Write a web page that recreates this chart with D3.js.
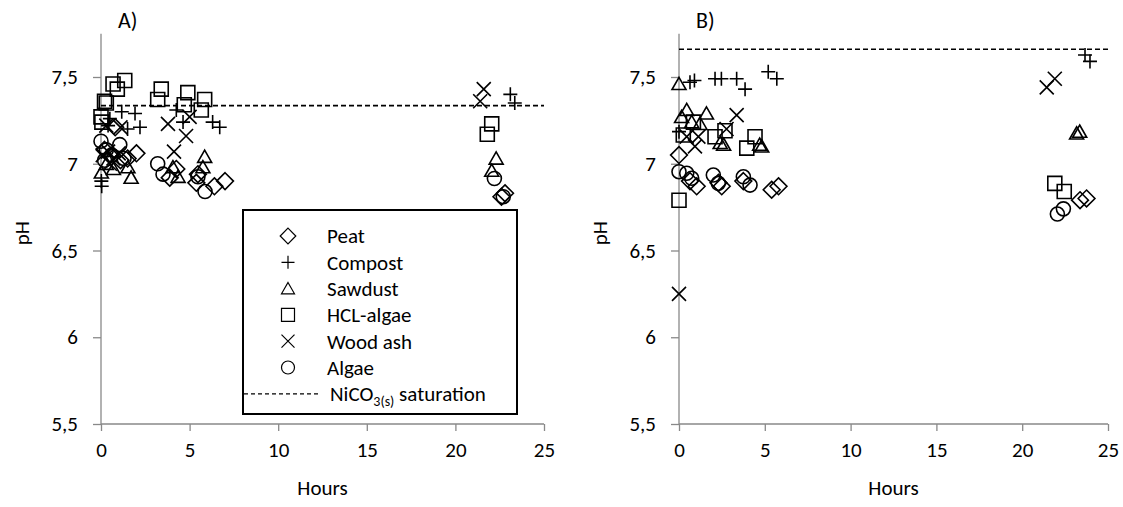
<!DOCTYPE html>
<html><head><meta charset="utf-8">
<script src="https://cdn.jsdelivr.net/npm/d3@7"></script>
<style>
html,body{margin:0;padding:0;background:#fff;}
svg{display:block;font-family:Carlito,Calibri,Lato,sans-serif;}
</style></head>
<body><svg id="c" width="1123" height="507"></svg>
<script>
// ---------- data ----------
const xTicks = [0,5,10,15,20,25];
const yTicks = [5.5,6,6.5,7,7.5];
const yTickLabels = ["5,5","6","6,5","7","7,5"];
const seriesNames = ["Peat","Compost","Sawdust","HCL-algae","Wood ash","Algae"];
const saturationLabel = "NiCO";
const saturationA = 7.335;
const saturationB = 7.66;

// Panel A  [hours, pH]
const peatA = [[0.2,7.08],[0.6,7.04],[0.8,7.21],[1.1,7.02],[1.5,7.03],[2.0,7.06],[3.88,6.92],[4.25,6.97],[5.38,6.89],[5.47,6.94],[6.4,6.87],[7.0,6.90],[22.6,6.81],[22.8,6.83]];
const compostA = [[0.02,6.90],[0.04,6.87],[0.4,7.22],[0.5,7.26],[1.17,7.30],[1.5,7.20],[1.92,7.29],[2.2,7.21],[4.25,7.31],[4.63,7.24],[6.3,7.24],[6.7,7.21],[23.1,7.40],[23.35,7.35]];
const sawdustA = [[0.02,6.95],[0.3,7.00],[0.7,6.97],[1.52,6.98],[1.7,6.92],[4.06,6.98],[4.35,6.925],[5.75,6.98],[5.85,7.04],[22.05,6.96],[22.3,7.03]];
const hclA = [[0.0,7.27],[0.05,7.24],[0.2,7.36],[0.3,7.35],[0.68,7.46],[0.92,7.43],[1.34,7.48],[3.2,7.37],[3.4,7.43],[4.7,7.34],[4.9,7.41],[5.66,7.31],[5.85,7.37],[21.8,7.17],[22.05,7.23]];
const woodA = [[0.1,7.05],[0.3,7.22],[0.4,7.07],[0.5,7.00],[0.7,7.03],[1.0,7.06],[1.1,7.21],[3.78,7.23],[4.12,7.07],[4.8,7.16],[5.0,7.27],[21.4,7.36],[21.6,7.43]];
const algaeA = [[0.0,7.13],[0.2,7.02],[0.3,7.08],[0.6,7.05],[1.06,7.11],[1.3,7.03],[3.2,7.00],[3.5,6.94],[5.47,6.925],[5.87,6.84],[22.2,6.915],[22.7,6.81]];

// Panel B  [hours, pH]
const peatB = [[0.0,7.05],[0.64,6.90],[1.03,6.87],[2.3,6.89],[2.49,6.87],[3.75,6.90],[5.4,6.85],[5.8,6.87],[23.37,6.79],[23.75,6.80]];
const compostB = [[0.0,7.185],[0.64,7.47],[0.9,7.48],[2.1,7.49],[2.47,7.49],[3.36,7.49],[3.85,7.43],[5.2,7.53],[5.7,7.49],[23.66,7.627],[23.95,7.59]];
const sawdustB = [[0.0,7.46],[0.15,7.27],[0.45,7.31],[0.74,7.24],[1.22,7.23],[1.6,7.29],[2.4,7.12],[2.6,7.11],[4.7,7.11],[4.82,7.10],[23.17,7.175],[23.35,7.185]];
const hclB = [[0.0,6.79],[0.25,7.166],[0.84,7.24],[2.1,7.156],[2.68,7.19],[3.95,7.09],[4.43,7.156],[21.9,6.887],[22.45,6.84]];
const woodB = [[0.0,6.25],[0.45,7.156],[0.93,7.10],[1.13,7.156],[2.77,7.20],[3.36,7.28],[21.43,7.44],[21.9,7.49]];
const algaeB = [[0.0,6.954],[0.45,6.945],[0.74,6.916],[2.0,6.935],[2.29,6.887],[3.75,6.925],[4.14,6.877],[22.05,6.71],[22.4,6.74]];

// ---------- drawing ----------
const svg = d3.select("#c");
const AX = "#898989";
const font = 21;

function symbolPath(kind, s) {
  const h = s/2;
  switch(kind){
    case "Peat": { const d=h*1.2; return `M0,${-d}L${d},0L0,${d}L${-d},0Z`; }
    case "Compost": return `M${-h},0H${h}M0,${-h}V${h}`;
    case "Sawdust": return `M0,${-h*0.95}L${h},${h*0.8}L${-h},${h*0.8}Z`;
    case "HCL-algae": return `M${-h},${-h}H${h}V${h}H${-h}Z`;
    case "Wood ash": return `M${-h},${-h}L${h},${h}M${h},${-h}L${-h},${h}`;
    case "Algae": return d3.arc()({innerRadius:0,outerRadius:h,startAngle:0,endAngle:2*Math.PI});
  }
}

function panel(cfg){
  const x = d3.scaleLinear().domain([0,25]).range([cfg.x0, cfg.x1]);
  const y = d3.scaleLinear().domain([5.5,7.75]).range([424, 424-2.25*173.5]);
  const g = svg.append("g");

  const ya = g.append("g").attr("transform",`translate(${cfg.x0},0)`)
    .call(d3.axisLeft(y).tickValues(yTicks).tickSize(8).tickPadding(15)
      .tickFormat((d,i)=>yTickLabels[i]));
  const xa = g.append("g").attr("transform",`translate(0,${y(5.5)})`)
    .call(d3.axisBottom(x).tickValues(xTicks).tickSize(7).tickPadding(11));
  [ya,xa].forEach(a=>{
    a.select(".domain").attr("stroke",AX).attr("stroke-width",1.3);
    a.selectAll(".tick line").attr("stroke",AX).attr("stroke-width",1.3);
    a.selectAll("text").attr("fill","#000").style("font-size",font+"px").style("font-family","Carlito,Calibri,Lato,sans-serif");
  });
  ya.select(".domain").attr("d",`M0,${y(7.75)}V${y(5.5)}`);
  xa.select(".domain").attr("d",`M${x(0)},0H${x(25)}`);

  g.append("text").attr("x",(cfg.x0+cfg.x1)/2).attr("y",495).attr("text-anchor","middle")
    .style("font-size",font+"px").text("Hours");
  g.append("text").attr("transform",`translate(${cfg.x0-72},${y(6.6)}) rotate(-90)`)
    .attr("text-anchor","middle").style("font-size",font+"px").text("pH");
  g.append("text").attr("x",cfg.x0+17).attr("y",28).style("font-size","22px").text(cfg.title);

  g.append("line").attr("x1",x(0)).attr("x2",x(25)).attr("y1",y(cfg.sat)).attr("y2",y(cfg.sat))
    .attr("stroke","#000").attr("stroke-width",1.6).attr("stroke-dasharray","5,3");

  cfg.series.forEach((data,i)=>{
    const name = seriesNames[i];
    g.append("g").selectAll("path").data(data).join("path")
      .attr("transform",d=>`translate(${x(d[0])},${y(d[1])})`)
      .attr("d",symbolPath(name,14))
      .attr("fill","none").attr("stroke","#000").attr("stroke-width",1.6);
  });
}

panel({x0:101,x1:544,title:"A)",sat:saturationA,series:[peatA,compostA,sawdustA,hclA,woodA,algaeA]});
panel({x0:679,x1:1108,title:"B)",sat:saturationB,series:[peatB,compostB,sawdustB,hclB,woodB,algaeB]});

// legend (panel A)
const lg = svg.append("g");
lg.append("rect").attr("x",243).attr("y",210).attr("width",274).attr("height",204)
  .attr("fill","#fff").attr("stroke","#000").attr("stroke-width",2);
seriesNames.forEach((n,i)=>{
  const cy = 236 + i*26.3;
  lg.append("path").attr("transform",`translate(288,${cy})`).attr("d",symbolPath(n,13))
    .attr("fill","none").attr("stroke","#000").attr("stroke-width",1.2);
  lg.append("text").attr("x",327).attr("y",cy).attr("dy","0.35em").style("font-size",font+"px").text(n);
});
const sy = 236 + 6*26.3;
lg.append("line").attr("x1",244).attr("x2",320).attr("y1",sy).attr("y2",sy)
  .attr("stroke","#000").attr("stroke-width",1.3).attr("stroke-dasharray","4,3");
const st = lg.append("text").attr("x",330).attr("y",sy).attr("dy","0.35em").style("font-size",font+"px");
st.append("tspan").text(saturationLabel);
st.append("tspan").attr("dy","5").style("font-size","14px").text("3(s)");
st.append("tspan").attr("dy","-5").text(" saturation");
</script></body></html>
